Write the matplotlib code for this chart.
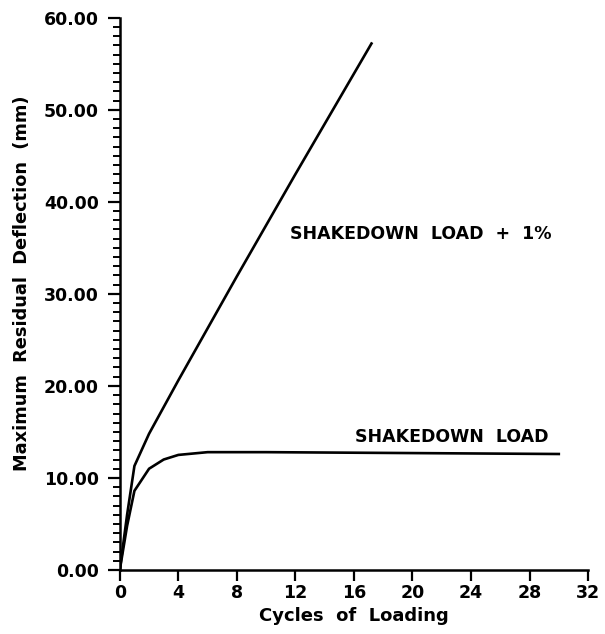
import matplotlib
matplotlib.use("Agg")
import matplotlib.pyplot as plt
from matplotlib.ticker import MultipleLocator, FormatStrFormatter

# Data
cycles_plus = [0, 0.5, 1.0, 2.0, 4.0, 8.0, 12.0, 17.2]
defl_plus = [0, 6.0, 11.3, 14.8, 20.6, 31.9, 43.0, 57.2]

cycles_sd = [0, 0.5, 1.0, 2.0, 3.0, 4.0, 6.0, 10.0, 20.0, 30.0]
defl_sd = [0, 4.8, 8.6, 11.0, 12.0, 12.5, 12.8, 12.8, 12.7, 12.6]

x_ticks = [0, 4, 8, 12, 16, 20, 24, 28, 32]

plt.rcParams['font.family'] = ['DejaVu Sans']
fig = plt.figure(figsize=(6.05, 6.34), dpi=100)
ax = fig.add_axes([0.198, 0.101, 0.774, 0.871])

lw = 1.9
ax.plot(cycles_plus, defl_plus, color='black', lw=lw, solid_joinstyle='round')
ax.plot(cycles_sd, defl_sd, color='black', lw=lw, solid_joinstyle='round')

ax.set_xlim(0, 32)
ax.set_ylim(0, 60)
ax.set_xticks(x_ticks)
ax.yaxis.set_major_locator(MultipleLocator(10))
ax.yaxis.set_minor_locator(MultipleLocator(1))
ax.yaxis.set_major_formatter(FormatStrFormatter('%.2f'))

for s in ['top', 'right']:
    ax.spines[s].set_visible(False)
for s in ['left', 'bottom']:
    ax.spines[s].set_linewidth(1.8)

ax.tick_params(axis='y', which='major', direction='out', length=9, width=1.6,
               labelsize=12.5, pad=6)
ax.tick_params(axis='y', which='minor', direction='out', length=5, width=1.4)
ax.tick_params(axis='x', which='major', direction='out', length=8, width=1.6,
               labelsize=12.5, pad=2)
for lab in ax.get_xticklabels() + ax.get_yticklabels():
    lab.set_fontweight('bold')

ax.set_xlabel('Cycles  of  Loading', fontsize=13, fontweight='bold', labelpad=4)
ax.set_ylabel('Maximum  Residual  Deflection  (mm)', fontsize=12.8,
              fontweight='bold')
ax.yaxis.set_label_coords(-0.19, 0.52)

ax.text(11.6, 36.5, 'SHAKEDOWN  LOAD  +  1%', fontsize=12.5, fontweight='bold',
        va='center', ha='left')
ax.text(16.1, 14.5, 'SHAKEDOWN  LOAD', fontsize=12.5, fontweight='bold',
        va='center', ha='left')

fig.savefig('out.png', dpi=100)
